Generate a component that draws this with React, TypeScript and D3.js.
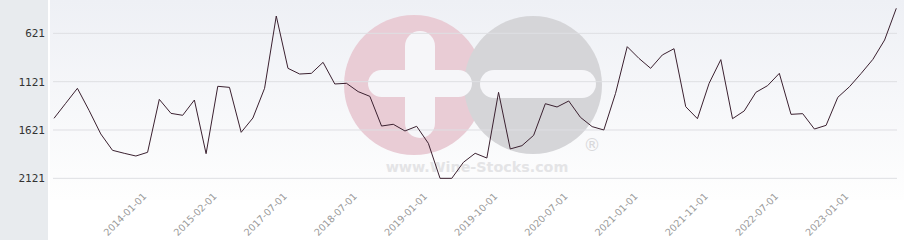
import React from "react";
import * as d3 from "d3";

const xLabels = [
  "2014-01-01", "2015-02-01", "2017-07-01", "2018-07-01", "2019-01-01", "2019-10-01",
  "2020-07-01", "2021-01-01", "2021-11-01", "2022-07-01", "2023-01-01",
];
const firstLabelIndex = 8;
const labelStep = 6;

const rankValues = [
  1500, 1345, 1190, 1419, 1662, 1831, 1862, 1890, 1852, 1304,
  1449, 1469, 1311, 1866, 1169, 1180, 1645, 1497, 1190, 442,
  983, 1042, 1035, 921, 1145, 1138, 1224, 1273, 1580, 1562,
  1631, 1583, 1759, 2121, 2121, 1955, 1862, 1911, 1231, 1817,
  1783, 1676, 1349, 1383, 1321, 1490, 1586, 1621, 1242, 759,
  880, 983, 845, 780, 1380, 1504, 1138, 893, 1504, 1424,
  1231, 1162, 1035, 1459, 1452, 1611, 1573, 1283, 1173, 1035,
  890, 690, 362,
];

const yTicks = [621, 1121, 1621, 2121];

const W = 904;
const H = 240;

export default function App() {
  const idx = d3.range(rankValues.length);
  const x = d3.scalePoint<number>().domain(idx).range([54, 896.3]);
  const y = d3.scaleLinear().domain([621, 2121]).range([33.33, 178.33]);
  const line = d3
    .line<number>()
    .x((_, i) => x(i) as number)
    .y((d) => y(d));

  const labelIdx = xLabels.map((_, i) => firstLabelIndex + i * labelStep);

  return (
    <div style={{ position: "absolute", left: 0, top: 0 }}>
      <svg width={W} height={H} style={{ display: "block" }}>
        <defs>
          <linearGradient id="bg" x1="0" y1="0" x2="0" y2="1">
            <stop offset="0" stopColor="#eef0f5" />
            <stop offset="1" stopColor="#fefefe" />
          </linearGradient>
        </defs>
        <rect x={0} y={0} width={W} height={H} fill="#ffffff" />
        <rect x={0} y={0} width={48} height={H} fill="#e8ebee" />
        <rect x={50} y={0} width={W - 50} height={200} fill="url(#bg)" />

        {/* watermark */}
        <g>
          <circle cx={414} cy={85} r={70} fill="#e9ccd5" />
          <circle cx={533} cy={85} r={69} fill="#d5d5d8" />
          <rect x={405} y={31} width={30} height={107} rx={15} fill="#f6f6f9" />
          <rect x={368} y={70} width={104} height={27} rx={13.5} fill="#f6f6f9" />
          <rect x={480} y={70} width={116} height={28} rx={14} fill="#f6f6f9" />
          <text
            x={477}
            y={172}
            textAnchor="middle"
            fontFamily="DejaVu Sans, sans-serif"
            fontWeight="bold"
            fontSize={14.3}
            fill="#e4e4e6"
          >
            www.Wine-Stocks.com
          </text>
          <text
            x={592}
            y={151}
            textAnchor="middle"
            fontFamily="DejaVu Sans, sans-serif"
            fontSize={17}
            fill="#d8d8da"
          >
            ®
          </text>
        </g>

        {yTicks.map((t) => (
          <g key={t}>
            <line x1={53} x2={897} y1={y(t)} y2={y(t)} stroke="#dedfe3" strokeWidth={1} />
            <text
              x={45}
              y={y(t) + 4}
              textAnchor="end"
              fontFamily="DejaVu Sans Mono, monospace"
              fontSize={11}
              fill="#333333"
            >
              {t}
            </text>
          </g>
        ))}

        <path d={line(rankValues) || ""} fill="none" stroke="#3b2130" strokeWidth={1} />

        {labelIdx.map((k, i) => {
          const px = (x(k) as number) - 0.5;
          const py = 197;
          return (
            <text
              key={xLabels[i]}
              x={px}
              y={py}
              textAnchor="end"
              transform={`rotate(-45 ${px} ${py})`}
              fontFamily="DejaVu Sans, sans-serif"
              fontSize={9.6}
              fill="#999999"
            >
              {xLabels[i]}
            </text>
          );
        })}
      </svg>
    </div>
  );
}
